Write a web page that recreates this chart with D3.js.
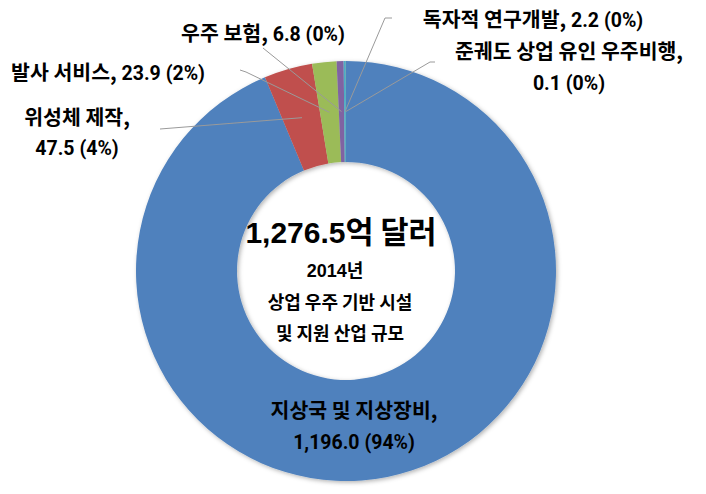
<!DOCTYPE html>
<html><head><meta charset="utf-8">
<script src="https://cdn.jsdelivr.net/npm/d3@7"></script>
<style>html,body{margin:0;padding:0;background:#fff;} svg{display:block;}</style>
</head><body>
<svg id="chart" width="706" height="494"></svg>
<script>
const categories = ["지상국 및 지상장비", "위성체 제작", "발사 서비스", "우주 보험", "독자적 연구개발", "준궤도 상업 유인 우주비행"];
const values = [1196.0, 47.5, 23.9, 6.8, 2.2, 0.1];
const percentLabels = ["94%", "4%", "2%", "0%", "0%", "0%"];
const valueLabels = ["1,196.0", "47.5", "23.9", "6.8", "2.2", "0.1"];
const colors = ["#4F81BD", "#C0504D", "#9BBB59", "#8064A2", "#4BACC6", "#F79646"];
const centerTitleNumber = "1,276.5";
const centerTitleUnit = "억 달러";
const centerYear = "2014";
const centerLines = ["년", "상업 우주 기반 시설", "및 지원 산업 규모"];

const svg = d3.select("#chart");
const cx = 346, cy = 271, rOuter = 210, rInner = 109;

const defs = svg.append("defs");
const f = defs.append("filter").attr("id","sh").attr("x","-10%").attr("y","-10%").attr("width","120%").attr("height","120%");
f.append("feDropShadow").attr("dx",1.5).attr("dy",1.5).attr("stdDeviation",2).attr("flood-color","#000").attr("flood-opacity",0.3);

const pie = d3.pie().sort(null).value(d => d)(values);
const arc = d3.arc().innerRadius(rInner).outerRadius(rOuter);
const g = svg.append("g").attr("transform", `translate(${cx},${cy})`);
g.append("g").attr("filter","url(#sh)")
  .selectAll("path").data(pie).join("path")
  .attr("d", arc).attr("fill", (d,i) => colors[i]);

// leader lines (label anchor points in page coords)
const leaderStarts = {
  1: [[160,129]],
  2: [[240,70],[246,72]],
  3: [[263,48]],
  4: [[392,18],[385,18]],
  5: [[435,62],[430,62]]
};
Object.keys(leaderStarts).forEach(k => {
  const i = +k;
  const c = arc.centroid(pie[i]);
  const pts = leaderStarts[k].concat([[cx + c[0], cy + c[1]]]);
  svg.append("path").attr("d", d3.line()(pts))
    .attr("fill","none").attr("stroke","#9a9a9a").attr("stroke-width",1);
});

const kf = "'Noto Sans CJK KR', 'Noto Sans', sans-serif";
const nf = "Roboto, 'Noto Sans', sans-serif";
function addRun(t, s, isNum) {
  t.append("tspan").attr("font-family", isNum ? nf : kf)
    .attr("font-size", isNum ? 19.5 : 20.5).attr("font-weight", "bold").text(s);
}
function label(x, y, runsPerLine, lh) {
  runsPerLine.forEach((runs, j) => {
    const t = svg.append("text").attr("x", x).attr("y", y + j * lh).attr("text-anchor", "middle")
      .attr("font-weight", "bold").attr("fill", "#000");
    runs.forEach(r => addRun(t, r[0], r[1]));
  });
}
const num = i => [`${valueLabels[i]} (${percentLabels[i]})`, true];
label(354, 418, [[[categories[0] + ",", false]], [num(0)]], 31);
label(77, 125, [[[categories[1] + ",", false]], [num(1)]], 30);
label(108, 80, [[[categories[2] + ",", false], [" " + num(2)[0], true]]], 0);
label(263, 41, [[[categories[3] + ",", false], [" " + num(3)[0], true]]], 0);
label(533, 27, [[[categories[4] + ",", false], [" " + num(4)[0], true]]], 0);
label(569, 59, [[[categories[5] + ",", false]], [num(5)]], 31);

// center text
const tt = svg.append("text").attr("x", cx - 5).attr("y", 243).attr("text-anchor","middle").attr("font-weight","bold");
tt.append("tspan").attr("font-family","'Liberation Sans', Arial, sans-serif").attr("font-size",30).text(centerTitleNumber);
tt.append("tspan").attr("font-family",kf).attr("font-size",30.5).text(centerTitleUnit);

const ty = svg.append("text").attr("x", cx - 11).attr("y", 277).attr("text-anchor","middle").attr("font-weight","bold");
ty.append("tspan").attr("font-family","'Liberation Sans', Arial, sans-serif").attr("font-size",18).text(centerYear);
ty.append("tspan").attr("font-family",kf).attr("font-size",18).text(centerLines[0]);
[309, 340].forEach((y, j) => {
  svg.append("text").attr("x", cx - 6).attr("y", y).attr("text-anchor","middle")
    .attr("font-family", kf).attr("font-weight","bold").attr("font-size", 18).text(centerLines[j + 1]);
});
</script>
</body></html>
